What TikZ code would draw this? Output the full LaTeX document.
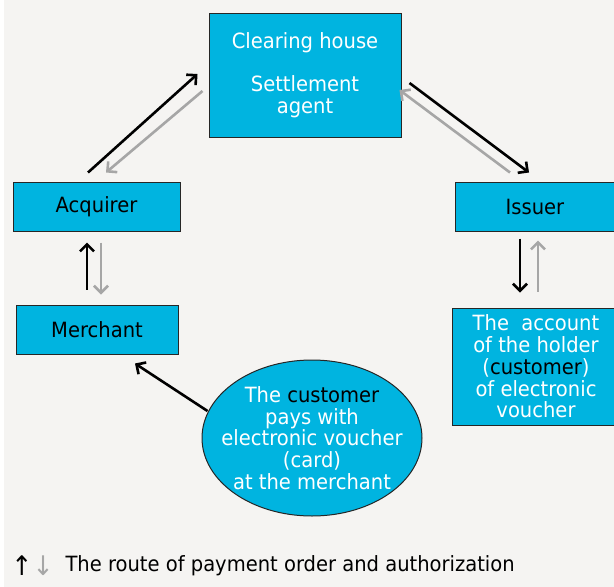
\documentclass[tikz,border=0pt]{standalone}
\usepackage{fontspec}
\setmainfont{DejaVu Sans}[FakeStretch=0.93]
\usetikzlibrary{calc}
\usetikzlibrary{shapes}
\usetikzlibrary{positioning}
\usetikzlibrary{arrows.meta}
\definecolor{boxblue}{HTML}{00B4E0}
\definecolor{paper}{HTML}{F5F4F2}
\definecolor{backgray}{HTML}{A6A6A6}

\begin{document}
\begin{tikzpicture}[x=1pt, y=-1pt,
        every node/.style={draw=black!85, fill=boxblue, line width=1pt, inner sep=0pt, align=center, font=\fontsize{21}{21.7}\selectfont},
        forward/.style={draw=black, line width=2.6pt, arrows={-{Straight Barb[length=7pt, width=14pt]}}},
        backward/.style={forward, draw=backgray}]
        \fill[paper] (4,0) rectangle (614,587);
        \useasboundingbox (0,0) rectangle (614,587);

        \node[minimum width=192, minimum height=124, text=white] (clearing) at (305,75) {Clearing house\\[21.7pt]Settlement\\agent};
        \node[minimum width=167, minimum height=49] (acquirer) at (96.5,206.5) {Acquirer};
        \node[minimum width=160, minimum height=49] (issuer) at (535,206.5) {Issuer};
        \node[minimum width=162, minimum height=49] (merchant) at (97,329.5) {Merchant};
        \node[minimum width=168, minimum height=117, text=white] (account) at (536,366.5) {The\ \ account\\of the holder\\(\textcolor{black}{customer})\\of electronic\\voucher};
        \node[ellipse, inner xsep=-14pt, inner ysep=-8pt, minimum width=220, minimum height=156, text=white] (customer) at (312,438) {The \textcolor{black}{customer}\\pays with\\electronic voucher\\(card)\\at the merchant};

        \node[draw=none, fill=none, anchor=west, font=\fontsize{27}{27}\selectfont] (legend arrows) at (11,566) {↑\textcolor{backgray}{↓}};
        \node[draw=none, fill=none, anchor=west] (legend) at (65,566) {The route of payment order and authorization};

        \draw[forward] ([shift={(-8.5,-9)}]acquirer.north) -- ([shift={(-11,-1)}]clearing.west);
        \draw[backward] ([shift={(-6,16)}]clearing.west) -- ([shift={(9.5,-9)}]acquirer.north);
        \draw[forward] ([shift={(8,8)}]clearing.east) -- ([shift={(-6,-9)}]issuer.north);
        \draw[backward] ([shift={(-25,-9)}]issuer.north) -- ([shift={(-2,15)}]clearing.east);

        \draw[forward] ([shift={(-10,-15)}]merchant.north) -- ([shift={(-9.5,11)}]acquirer.south);
        \draw[backward] ([shift={(4.5,11)}]acquirer.south) -- ([shift={(4,-10)}]merchant.north);
        \draw[forward] ([shift={(-15,7)}]issuer.south) -- ([shift={(-16,-15)}]account.north);
        \draw[backward] ([shift={(2,-16)}]account.north) -- ([shift={(3,9)}]issuer.south);

        \draw[forward] ([shift={(6,-27)}]customer.west) -- ([shift={(38,9)}]merchant.south);
    \end{tikzpicture}
\end{document}
